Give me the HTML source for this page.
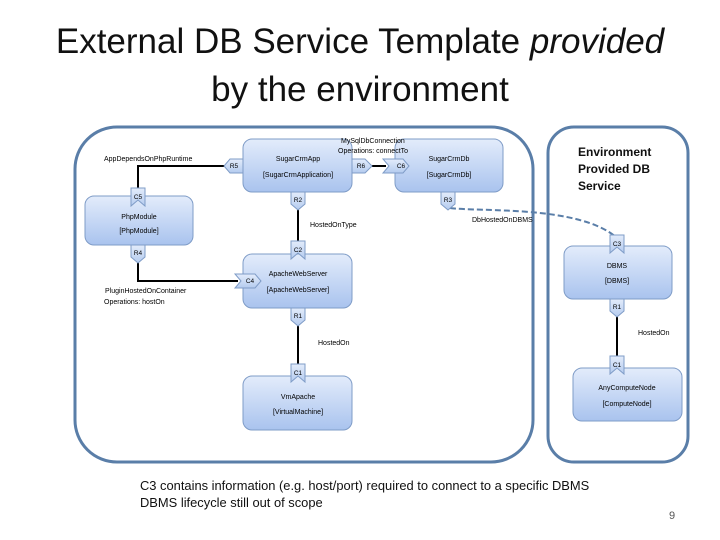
<!DOCTYPE html>
<html><head><meta charset="utf-8"><style>
body{margin:0;width:720px;height:540px;background:#fff;overflow:hidden;font-family:"Liberation Sans",sans-serif}
.t{position:absolute;left:0;width:720px;text-align:center;font-size:35px;color:#111}
</style></head><body>
<div class="t" style="top:22px">External DB Service Template <i>provided</i></div>
<div class="t" style="top:70px">by the environment</div>
<svg width="720" height="540" style="position:absolute;left:0;top:0">
<defs>
<linearGradient id="g" x1="0" y1="0" x2="0" y2="1"><stop offset="0" stop-color="#e3ecfb"/><stop offset="1" stop-color="#a9c3ee"/></linearGradient>
<linearGradient id="p" x1="0" y1="0" x2="0" y2="1"><stop offset="0" stop-color="#e3ecfb"/><stop offset="1" stop-color="#b4cbef"/></linearGradient>
</defs>
<rect x="75" y="127" width="458" height="335" rx="42" fill="none" stroke="#5a7ea8" stroke-width="3"/>
<rect x="548" y="127" width="140" height="335" rx="26" fill="none" stroke="#5a7ea8" stroke-width="3"/>
<g stroke="#000" stroke-width="2" fill="none">
<polyline points="236,166 138,166 138,190"/>
<line x1="372" y1="166" x2="386" y2="166"/>
<line x1="298" y1="205" x2="298" y2="243"/>
<polyline points="138,262 138,281 238,281"/>
<line x1="298" y1="318" x2="298" y2="366"/>
<line x1="617" y1="310" x2="617" y2="362"/>
</g>
<path d="M450,208 C480,212 580,205 617,238" stroke="#5a7ea8" stroke-width="2" stroke-dasharray="6,3" fill="none"/>
<g fill="url(#g)" stroke="#7f9cc7" stroke-width="1">
<rect x="243" y="139" width="109" height="53" rx="9"/>
<rect x="395" y="139" width="108" height="53" rx="9"/>
<rect x="85" y="196" width="108" height="49" rx="9"/>
<rect x="243" y="254" width="109" height="54" rx="9"/>
<rect x="243" y="376" width="109" height="54" rx="9"/>
<rect x="564" y="246" width="108" height="53" rx="9"/>
<rect x="573" y="368" width="109" height="53" rx="9"/>
</g>
<g fill="url(#p)" stroke="#7f9cc7" stroke-width="1">
<polygon points="291,192 305,192 305,204 298,210 291,204"/>
<polygon points="441,192 455,192 455,204 448,210 441,204"/>
<polygon points="131,245 145,245 145,257 138,263 131,257"/>
<polygon points="291,308 305,308 305,320 298,326 291,320"/>
<polygon points="610,299 624,299 624,311 617,317 610,311"/>
<polygon points="131,188 145,188 145,206 138,200 131,206" />
<polygon points="291,241 305,241 305,259 298,253 291,259"/>
<polygon points="291,364 305,364 305,382 298,376 291,382"/>
<polygon points="610,235 624,235 624,253 617,247 610,253"/>
<polygon points="610,356 624,356 624,374 617,368 610,374"/>
<polygon points="243,159 230,159 224,166 230,173 243,173"/>
<polygon points="352,159 365,159 372,166 365,173 352,173"/>
<polygon points="383,159 403,159 409,166 403,173 383,173 389,166"/>
<polygon points="235,274 255,274 261,281 255,288 235,288 241,281"/>
</g>
<g font-family="Liberation Sans,sans-serif" font-size="7" fill="#000" text-anchor="middle">
<text x="298" y="161">SugarCrmApp</text><text x="298" y="177">[SugarCrmApplication]</text>
<text x="449" y="161">SugarCrmDb</text><text x="449" y="177">[SugarCrmDb]</text>
<text x="139" y="219">PhpModule</text><text x="139" y="233">[PhpModule]</text>
<text x="298" y="276">ApacheWebServer</text><text x="298" y="292">[ApacheWebServer]</text>
<text x="298" y="399">VmApache</text><text x="298" y="414">[VirtualMachine]</text>
<text x="617" y="268">DBMS</text><text x="617" y="283">[DBMS]</text>
<text x="627" y="390">AnyComputeNode</text><text x="627" y="406">[ComputeNode]</text>
<g font-size="6.5">
<text x="298" y="202">R2</text><text x="448" y="202">R3</text><text x="138" y="255">R4</text><text x="298" y="318">R1</text><text x="617" y="309">R1</text>
<text x="138" y="199">C5</text><text x="298" y="252">C2</text><text x="298" y="375">C1</text><text x="617" y="246">C3</text><text x="617" y="367">C1</text>
<text x="234" y="168">R5</text><text x="361" y="168">R6</text><text x="401" y="168">C6</text><text x="250" y="283">C4</text>
</g>
<g text-anchor="start">
<text x="104" y="161">AppDependsOnPhpRuntime</text>
<text x="341" y="143">MySqlDbConnection</text><text x="338" y="153">Operations: connectTo</text>
<text x="310" y="227">HostedOnType</text>
<text x="472" y="222">DbHostedOnDBMS</text>
<text x="105" y="293">PluginHostedOnContainer</text><text x="104" y="304">Operations: hostOn</text>
<text x="318" y="345">HostedOn</text>
<text x="638" y="335">HostedOn</text>
</g>
</g>
<g font-family="Liberation Sans,sans-serif" font-size="12" font-weight="bold" fill="#111">
<text x="578" y="156">Environment</text><text x="578" y="173">Provided DB</text><text x="578" y="190">Service</text>
</g>
<g font-family="Liberation Sans,sans-serif" font-size="12.9" fill="#111">
<text x="140" y="490">C3 contains information (e.g. host/port) required to connect to a specific DBMS</text>
<text x="140" y="507">DBMS lifecycle still out of scope</text>
</g>
<text x="669" y="519" font-family="Liberation Sans,sans-serif" font-size="11" fill="#555">9</text>
</svg>
</body></html>
